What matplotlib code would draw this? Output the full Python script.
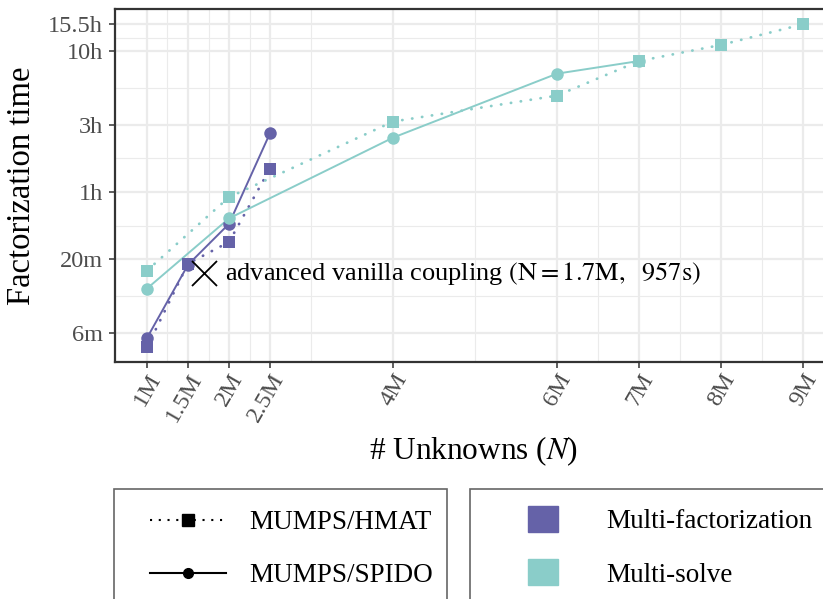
import matplotlib
matplotlib.use("Agg")
import matplotlib.pyplot as plt
import numpy as np
from matplotlib.lines import Line2D
from matplotlib.patches import Patch, Rectangle

plt.rcParams["font.family"] = ["Liberation Serif", "DejaVu Serif"]
plt.rcParams["mathtext.fontset"] = "stix"

PURPLE = "#6562A8"
TEAL = "#8ACDC9"
W, H = 823, 599

# unknowns in millions, factorization times in seconds
mf_spido_n = [1, 1.5, 2, 2.5]
mf_spido_t = [333, 1100, 2146, 9425]
mf_hmat_n = [1, 1.5, 2, 2.5]
mf_hmat_t = [286, 1120, 1595, 5290]
ms_spido_n = [1, 2, 4, 6, 7]
ms_spido_t = [746, 2345, 8760, 24900, 30600]
ms_hmat_n = [1, 2, 4, 6, 7, 8, 9]
ms_hmat_t = [1000, 3314, 11390, 17400, 30600, 39800, 55800]

vanilla_n = 1.7
vanilla_t = 957

x_ticks = [1, 1.5, 2, 2.5, 4, 6, 7, 8, 9]
x_labels = ["1M", "1.5M", "2M", "2.5M", "4M", "6M", "7M", "8M", "9M"]
x_minor = [1.25, 1.75, 2.25, 3, 5, 6.5, 7.5, 8.5]
y_ticks = [360, 1200, 3600, 10800, 36000, 55800]
y_labels = ["6m", "20m", "1h", "3h", "10h", "15.5h"]


def fig_xy(x, y):
    return x / W, 1 - y / H


fig = plt.figure(figsize=(W / 100, H / 100), dpi=100)
ax = fig.add_axes([115 / W, 1 - 362 / H, 721 / W, 353 / H])
ax.set_yscale("log")
ax.set_xlim(0.61, 9.4)
ax.set_ylim(225, 71500)

ax.set_xticks(x_ticks)
ax.set_xticklabels(x_labels)
ax.set_xticks(x_minor, minor=True)
ax.set_yticks(y_ticks)
ax.set_yticklabels(y_labels)
y_minor = [np.sqrt(a * b) for a, b in zip(y_ticks[:-1], y_ticks[1:])]
ax.set_yticks(y_minor, minor=True)
ax.yaxis.set_minor_formatter(plt.NullFormatter())

ax.grid(which="major", color="#EBEBEB", lw=1.6)
ax.grid(which="minor", color="#EBEBEB", lw=0.8)
ax.set_axisbelow(True)
ax.tick_params(which="major", length=4.5, width=1.1, color="#333333",
               labelsize=17.5, labelcolor="#4D4D4D", pad=4)
ax.tick_params(axis="x", which="major", pad=1)
ax.tick_params(which="minor", length=0)
for lab in ax.get_xticklabels():
    lab.set_rotation(60)
    lab.set_ha("right")
    lab.set_va("top")
    lab.set_rotation_mode("anchor")
for side in ["top", "bottom", "left", "right"]:
    ax.spines[side].set_color("#333333")
    ax.spines[side].set_linewidth(1.6)

dotted = (0, (0.1, 3.5))
# lines first
ax.plot(mf_spido_n, mf_spido_t, color=PURPLE, lw=1.4, zorder=2)
ax.plot(mf_hmat_n, mf_hmat_t, color=PURPLE, lw=2, ls=dotted,
        dash_capstyle="round", zorder=2)
ax.plot(ms_spido_n, ms_spido_t, color=TEAL, lw=1.4, zorder=2)
ax.plot(ms_hmat_n, ms_hmat_t, color=TEAL, lw=2, ls=dotted,
        dash_capstyle="round", zorder=2)
# then points
ax.plot(mf_spido_n, mf_spido_t, "o", color=PURPLE, ms=9, mew=0, zorder=3)
ax.plot(mf_hmat_n, mf_hmat_t, "s", color=PURPLE, ms=9, mew=0, zorder=3)
ax.plot(ms_spido_n, ms_spido_t, "o", color=TEAL, ms=9, mew=0, zorder=4)
ax.plot(ms_hmat_n, ms_hmat_t, "s", color=TEAL, ms=9, mew=0, zorder=4)

ax.plot([vanilla_n], [vanilla_t], "x", color="black", ms=18, mew=1.3, zorder=5)
ax.annotate(r"advanced vanilla coupling $\left(\mathrm{N} = \mathrm{1.7M},\ \ \mathrm{957s}\right)$",
            xy=(vanilla_n, vanilla_t), xytext=(15, 0), textcoords="offset points",
            fontsize=19, va="center", ha="left", color="black")

fig.text(*fig_xy(22, 186), "Factorization time", rotation=90,
         fontsize=23.5, ha="center", va="center")
fig.text(*fig_xy(474, 451), r"# Unknowns ($N$)", fontsize=22.5,
         ha="center", va="center")

# legend frames
for x0, x1 in [(114, 447), (470, 900)]:
    rx, ry = fig_xy(x0, 605)
    fig.add_artist(Rectangle((rx, ry), (x1 - x0) / W, (605 - 489) / H,
                             transform=fig.transFigure, fill=False,
                             edgecolor="#666666", lw=1.2))

method_handles = [
    Line2D([], [], color="black", lw=1.5, ls=(0, (1, 3.2)), marker="s", ms=8),
    Line2D([], [], color="black", lw=1.5, ls="-", marker="o", ms=7),
]
fig.legend(method_handles, ["MUMPS/HMAT", "MUMPS/SPIDO"], loc="upper left",
           bbox_to_anchor=fig_xy(150, 510), frameon=False, fontsize=19.5,
           borderpad=0, borderaxespad=0, handlelength=2.8, handletextpad=0.88,
           labelspacing=1.05)

strategy_handles = [Patch(color=PURPLE), Patch(color=TEAL)]
fig.legend(strategy_handles, ["Multi-factorization", "Multi-solve"], loc="upper left",
           bbox_to_anchor=fig_xy(528, 506), frameon=False, fontsize=19.5,
           borderpad=0, borderaxespad=0, handlelength=1.1, handleheight=1.1,
           handletextpad=1.78, labelspacing=0.93)

fig.savefig("out.png", dpi=100)
